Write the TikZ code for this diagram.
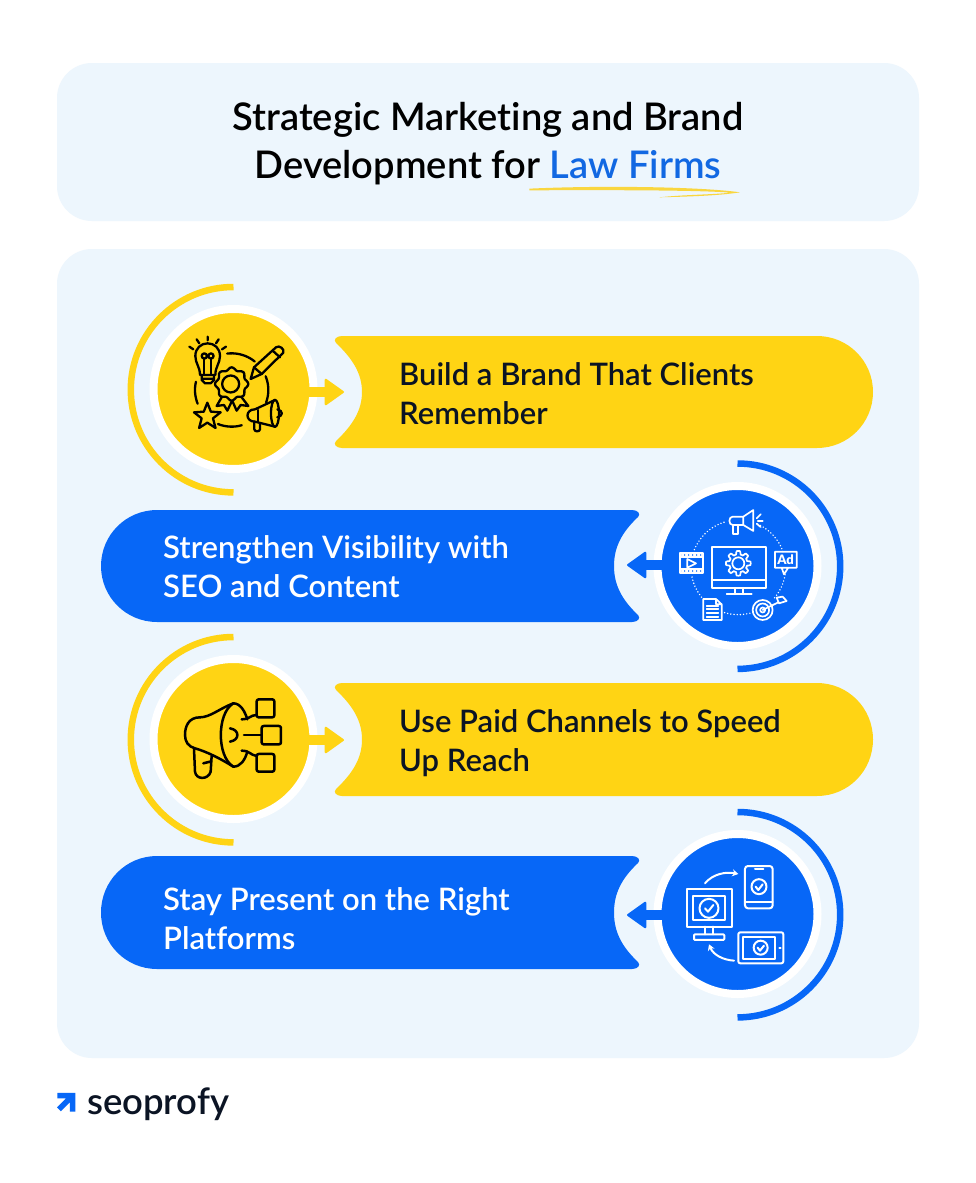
\documentclass[tikz,border=0pt]{standalone}
\usepackage{fontspec}
\setmainfont{Lato Semibold}[Ligatures=NoCommon]
\usetikzlibrary{arrows.meta}
\definecolor{barY}{HTML}{FFD414}
\definecolor{barB}{HTML}{0767F7}
\definecolor{panel}{HTML}{EDF6FD}
\definecolor{lawblue}{HTML}{1268E2}
\definecolor{ink}{HTML}{0B1424}
\definecolor{swoosh}{HTML}{F9D63F}
\tikzset{
 panelbox/.style={fill=panel,rounded corners=35pt},
 disc/.style={circle,minimum size=160pt,inner sep=0pt,draw=white,line width=8pt,outer sep=0pt},
 halo/.style={line width=6.5pt},
 pointer/.style={line width=10pt,-{Triangle[length=20pt,width=28pt,round,line width=2pt]}},
 bartext/.style={anchor=west,align=left,font=\fontsize{31}{39}\selectfont,inner sep=0pt},
 icon/.style={line width=2.3pt,line cap=round,line join=round},
 dots/.style={line width=1.6pt,line cap=round,dash pattern=on 0pt off 3.2pt},
}
\begin{document}
\begin{tikzpicture}[x=1pt,y=-1pt]
\useasboundingbox (0,0) rectangle (976,1183);
\fill[white] (0,0) rectangle (976,1183);
\fill[panelbox] (57,63) rectangle (919,221);
\fill[panelbox] (57,249) rectangle (919,1058);
% title
\node[anchor=base,inner sep=0pt,font=\fontsize{38.1}{48}\selectfont] (t1) at (488,130) {Strategic Marketing and Brand};
\node[anchor=base,inner sep=0pt,font=\fontsize{38.1}{48}\selectfont] (t2) at (488,178) {Development for \textcolor{lawblue}{Law Firms}};
\begin{scope}[shift={(500,140)},x=0.3333pt,y=-0.3333pt]
\fill[swoosh] (88,146) .. controls (300,136) and (600,140) .. (720,157) .. controls (650,168) and (550,170) .. (478,172) .. controls (550,164) and (640,164) .. (690,158) .. controls (600,150) and (300,150) .. (88,151) -- cycle;
\end{scope}
% bars
\fill[barY] (342,336) -- (817,336) .. controls (848,336) and (873,361) .. (873,392) .. controls (873,423) and (848,448) .. (817,448) -- (342,448) .. controls (336,448) and (333,444) .. (336,441) .. controls (353,425) and (362,410) .. (362,392) .. controls (362,374) and (353,359) .. (336,343) .. controls (333,340) and (336,336) .. (342,336) -- cycle;
\fill[barY] (342,683) -- (817,683) .. controls (848,683) and (873,708) .. (873,739.5) .. controls (873,771) and (848,796) .. (817,796) -- (342,796) .. controls (336,796) and (333,792) .. (336,789) .. controls (353,773) and (362,758) .. (362,739.5) .. controls (362,721) and (353,706) .. (336,690) .. controls (333,687) and (336,683) .. (342,683) -- cycle;
\fill[barB] (632,510) -- (157,510) .. controls (126,510) and (101,535) .. (101,566) .. controls (101,597) and (126,622) .. (157,622) -- (632,622) .. controls (638,622) and (641,618) .. (638,615) .. controls (621,599) and (614,584) .. (614,566) .. controls (614,548) and (621,533) .. (638,517) .. controls (641,514) and (638,510) .. (632,510) -- cycle;
\fill[barB] (632,856) -- (157,856) .. controls (126,856) and (101,881) .. (101,912.5) .. controls (101,944) and (126,969) .. (157,969) -- (632,969) .. controls (638,969) and (641,965) .. (638,962) .. controls (621,946) and (614,931) .. (614,912.5) .. controls (614,894) and (621,879) .. (638,863) .. controls (641,860) and (638,856) .. (632,856) -- cycle;
% halos
\draw[halo,barY] (233.5,287) arc[start angle=90,end angle=270,radius=102.7pt];
\draw[halo,barY] (233.5,637) arc[start angle=90,end angle=270,radius=102.7pt];
\draw[halo,barB] (737.5,463.5) arc[start angle=90,end angle=-90,radius=102.7pt];
\draw[halo,barB] (737.5,812) arc[start angle=90,end angle=-90,radius=102.7pt];
% discs
\node[disc,fill=barY] (d1) at (233.5,389) {};
\node[disc,fill=barB] (d2) at (737.5,566) {};
\node[disc,fill=barY] (d3) at (233.5,739) {};
\node[disc,fill=barB] (d4) at (737.5,914) {};
% pointers
\coordinate (p1) at (344,392);
\coordinate (p2) at (627,565);
\coordinate (p3) at (344,740);
\coordinate (p4) at (627,915);
\coordinate (s1) at (305,392);
\coordinate (s2) at (666,565);
\coordinate (s3) at (305,740);
\coordinate (s4) at (666,915);
\draw[pointer,barY] (s1) -- (p1);
\draw[pointer,barB] (s2) -- (p2);
\draw[pointer,barY] (s3) -- (p3);
\draw[pointer,barB] (s4) -- (p4);
% texts
\node[bartext,text=ink] (b1) at (399,394) {Build a Brand That Clients\\Remember};
\node[bartext,text=white] (b2) at (163,567) {Strengthen Visibility with\\SEO and Content};
\node[bartext,text=ink] (b3) at (399,743) {Use Paid Channels to Speed\\Up Reach};
\node[bartext,text=white] (b4) at (163,919) {Stay Present on the Right\\Platforms};
% icon 1
\begin{scope}[shift={(120,280)},x=0.3333pt,y=-0.3333pt,icon,draw=black]
\draw (240,285) .. controls (240,260) and (226,250) .. (226,228) .. controls (226,205) and (243,190) .. (263,190) .. controls (283,190) and (300,205) .. (300,228) .. controls (300,250) and (286,260) .. (286,285) -- cycle;
\draw (245,285) -- (245,300) -- (255,310) -- (272,310) -- (282,300) -- (282,285) (245,296) -- (282,296);
\draw (253,283) -- (253,236) (273,283) -- (273,236);
\draw (253,228) circle[radius=2.6pt] (273,228) circle[radius=2.6pt];
\draw (263,170) -- (263,181) (230,178) -- (238,190) (296,178) -- (288,190) (208,200) -- (220,208) (318,200) -- (306,208);
\draw[smooth] plot[domain=0:360,samples=65] ({335+(46+4*cos(8*\x))*cos(\x)},{312+(46+4*cos(8*\x))*sin(\x)}) -- cycle;
\draw (332,312) circle[radius=8.5pt];
\draw (305,352) -- (290,378) -- (312,375) -- (322,392) -- (335,365) (365,352) -- (385,378) -- (362,375) -- (350,392) -- (338,365);
\draw plot[domain=-97:-51,samples=12] ({335+110*cos(\x)},{330+110*sin(\x)});
\draw plot[domain=-22:20,samples=12] ({335+110*cos(\x)},{330+110*sin(\x)});
\draw plot[domain=74:112,samples=12] ({335+110*cos(\x)},{330+110*sin(\x)});
\draw plot[domain=158:193,samples=12] ({335+110*cos(\x)},{330+110*sin(\x)});
\draw (392,297) -- (402,262) -- (468,202) .. controls (478,194) and (495,208) .. (490,218) -- (425,282) -- cycle;
\draw (402,262) -- (425,282) (458,212) -- (480,232);
\draw (262,368) -- (272.6,395) -- (302,397) -- (279,415) -- (286.7,444) -- (262,428) -- (237.3,444) -- (245,415) -- (222,397) -- (251.4,395) -- cycle;
\draw (465,360) -- (405,388) .. controls (375,388) and (375,425) .. (405,425) -- (465,440);
\draw (465,400) ellipse[x radius=4pt,y radius=13.5pt];
\draw (403,425) -- (403,448) .. controls (403,456) and (420,456) .. (420,448) -- (420,430);
\draw (472,388) .. controls (490,392) and (490,408) .. (472,412);
\draw (415,390) -- (415,425);
\end{scope}
% icon 2
\begin{scope}[shift={(610,455)},x=0.3333pt,y=-0.3333pt,draw=white,line width=1.7pt,line join=round,line cap=round]
\draw (305,277) rectangle (468,398) (305,375) -- (468,375);
\draw (375,398) -- (375,418) (398,398) -- (398,418) (350,418) -- (425,418);
\draw plot[domain=0:360,samples=145] ({385+(32+5*min(1,max(-1,2.5*cos(8*\x))))*cos(\x)},{325+(32+5*min(1,max(-1,2.5*cos(8*\x))))*sin(\x)}) -- cycle;
\draw (385,325) circle[radius=6pt];
\draw[dots] plot[domain=202:256,samples=16] ({385+142*cos(\x)},{337+142*sin(\x)});
\draw[dots] plot[domain=-66:-19,samples=16] ({385+142*cos(\x)},{337+142*sin(\x)});
\draw[dots] plot[domain=9:43,samples=16] ({385+142*cos(\x)},{337+142*sin(\x)});
\draw[dots] plot[domain=72:108,samples=16] ({385+142*cos(\x)},{337+142*sin(\x)});
\draw[dots] plot[domain=141:169,samples=16] ({385+142*cos(\x)},{337+142*sin(\x)});
\draw (400,185) -- (430,165) -- (430,228) -- (400,210) -- (368,210) .. controls (355,210) and (355,185) .. (368,185) -- cycle (400,185) -- (400,210);
\draw (370,210) -- (370,238) -- (385,238) -- (385,210);
\draw (440,190) -- (452,178) (443,198) -- (458,198) (440,206) -- (452,216);
\draw (210,293) rectangle (280,355) (212,305) -- (278,305) (212,343) -- (278,343);
\draw[dash pattern=on 2pt off 2pt] (215,299) -- (276,299) (215,349) -- (276,349);
\draw (232,312) -- (258,325) -- (232,338) -- cycle;
\draw (495,290) rectangle (560,338) (515,338) -- (522,358) -- (535,338);
\node[inner sep=0pt,font=\bfseries\fontsize{13}{13}\selectfont,text=white] (adtxt) at (527,314) {Ad};
\draw (280,432) -- (318,432) -- (335,448) -- (335,495) -- (280,495) -- cycle (318,432) -- (318,448) -- (335,448);
\draw (290,452) -- (325,452) (290,463) -- (325,463) (290,474) -- (325,474) (290,485) -- (325,485);
\draw (458,465) circle[radius=10pt] (458,465) circle[radius=6.5pt] (458,465) circle[radius=2.5pt];
\draw (458,465) -- (505,442) (500,428) -- (507,445) -- (530,438) -- (518,425) -- cycle;
\end{scope}
% icon 3
\begin{scope}[shift={(120,630)},x=0.3333pt,y=-0.3333pt,icon,draw=black,line width=2.5pt]
\draw (240,262) .. controls (205,262) and (195,290) .. (195,315) .. controls (195,335) and (205,350) .. (225,355) .. controls (260,365) and (300,385) .. (340,410) .. controls (362,410) and (375,390) .. (382,365);
\draw (240,262) .. controls (270,262) and (300,235) .. (340,220) .. controls (362,220) and (375,245) .. (382,268);
\draw (340,220) .. controls (290,250) and (290,380) .. (340,410);
\draw (222,355) -- (225,425) .. controls (228,450) and (265,450) .. (272,425) -- (275,378) (250,400) -- (270,395);
\draw (365,268) .. controls (390,268) and (390,255) .. (410,255);
\draw (365,362) .. controls (390,362) and (390,375) .. (410,378);
\draw (372,315) -- (425,315);
\draw[rounded corners=2pt] (410,208) rectangle (463,262) (425,288) rectangle (483,343) (410,372) rectangle (463,425);
\draw (330,295) .. controls (345,298) and (352,305) .. (352,315) .. controls (352,325) and (345,332) .. (330,335);
\end{scope}
% icon 4
\begin{scope}[shift={(610,805)},x=0.3333pt,y=-0.3333pt,draw=white,line width=2pt,line join=round,line cap=round]
\draw (230,253) rectangle (365,365) (250,272) rectangle (345,345);
\draw (297,310) circle[radius=9.5pt];
\draw (285,310) -- (294,320) -- (310,300);
\draw (285,365) -- (285,388) (310,365) -- (310,388);
\draw[rounded corners=1pt] (252,388) rectangle (343,405);
\draw[rounded corners=3pt] (405,183) rectangle (488,310);
\draw (405,290) -- (488,290) (435,192) -- (460,192);
\draw (447,245) circle[radius=7.5pt] (437,245) -- (445,255) -- (458,238);
\draw[rounded corners=2pt] (385,382) rectangle (520,475);
\draw (400,395) rectangle (495,462) (508,430) -- (512,430);
\draw (452,428) circle[radius=7pt] (443,428) -- (450,437) -- (462,422);
\draw[-{Stealth[length=6pt,width=7pt]}] (285,235) .. controls (310,205) and (350,200) .. (385,207);
\draw[-{Stealth[length=6pt,width=7pt]}] (372,467) .. controls (340,465) and (310,450) .. (297,418);
\end{scope}
% logo
\begin{scope}[shift={(40,1075)},x=0.3333pt,y=-0.3333pt]
\draw[barB,line width=5.5pt] (57,103) -- (95,65) (52,62) -- (98,62) -- (98,110);
\end{scope}
\node[anchor=base west,inner sep=0pt,text=ink,font=\fontsize{36.5}{37}\selectfont] (logo) at (87,1114) {seoprofy};
\end{tikzpicture}
\end{document}
